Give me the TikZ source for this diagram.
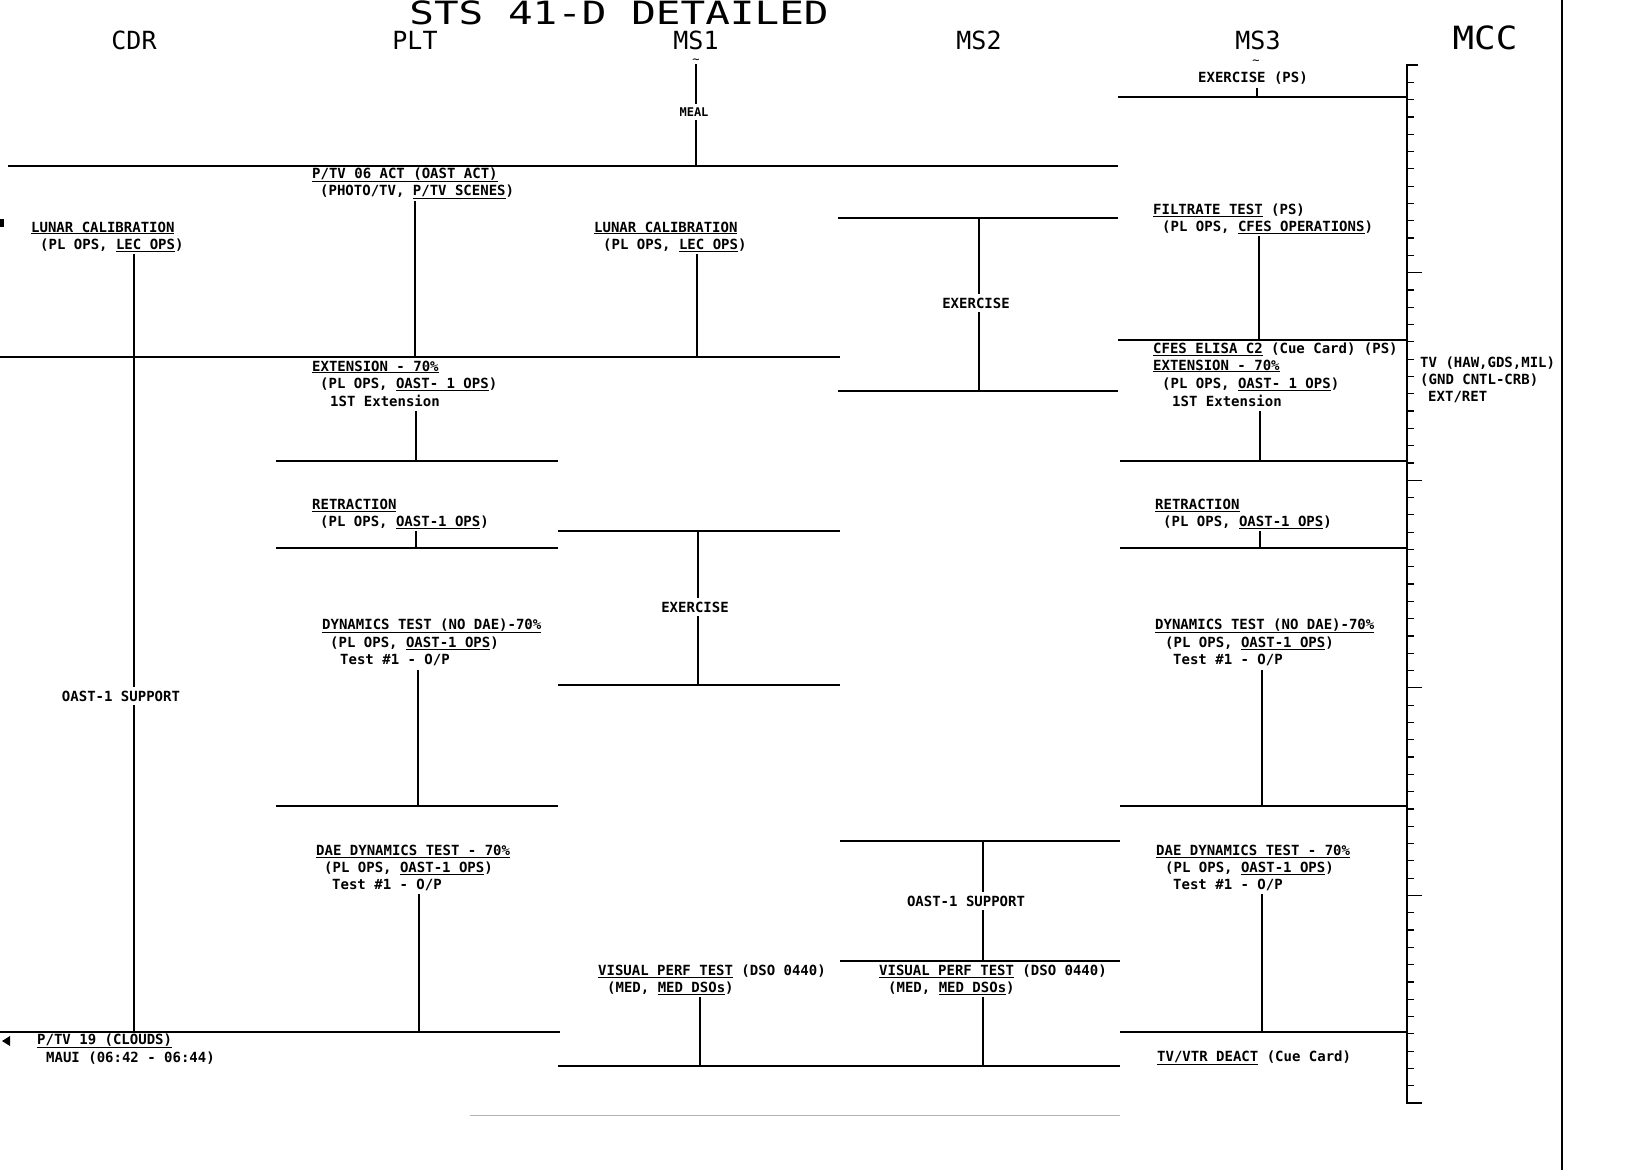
\documentclass[tikz,border=0pt]{standalone}
\usepackage{fontspec}
\newfontfamily\mono{DejaVu Sans Mono}
\newcommand{\uln}[1]{\underline{#1}}
\tikzset{
  lbl/.style={font=\mono\bfseries\fontsize{14}{16}\selectfont, inner sep=0pt, anchor=west},
  clbl/.style={font=\mono\bfseries\fontsize{14}{16}\selectfont, inner sep=0pt, outer ysep=4pt},
  hdr/.style={font=\mono\fontsize{25}{28}\selectfont, inner sep=0pt},
  hl/.style={line width=2pt},
  vl/.style={line width=1.4pt},
  axisline/.style={line width=2pt},
  tickline/.style={line width=1.2pt},
}
\begin{document}
\begin{tikzpicture}[x=1pt,y=-1pt]
\useasboundingbox (0,0) rectangle (1644,1170);
\fill[white] (0,0) rectangle (1644,1170);

% ---------- headers ----------
\node[font=\mono\fontsize{32}{34}\selectfont, inner sep=0pt] (title) at (619,13) {\scalebox{1.28}[1]{STS 41-D DETAILED}};
\node[hdr] (hcdr) at (134,40) {CDR};
\node[hdr] (hplt) at (415,40) {PLT};
\node[hdr] (hms1) at (696,40) {MS1};
\node[hdr] (hms2) at (979,40) {MS2};
\node[hdr] (hms3) at (1258,40) {MS3};
\node[font=\mono\fontsize{32}{34}\selectfont, inner sep=0pt] (hmcc) at (1485,38) {\scalebox{1.12}[1]{MCC}};
\node[inner sep=0pt, font=\mono\fontsize{12}{12}\selectfont] (til1) at (696,61) {\textasciitilde};
\node[inner sep=0pt, font=\mono\fontsize{12}{12}\selectfont] (til3) at (1256,62) {\textasciitilde};

% ---------- coordinates of horizontal lines ----------
\coordinate (h1a) at (1118,97);   \coordinate (h1b) at (1407,97);
\coordinate (h2a) at (8,166);     \coordinate (h2b) at (1118,166);
\coordinate (h3a) at (838,218);   \coordinate (h3b) at (1118,218);
\coordinate (h4a) at (1118,340);  \coordinate (h4b) at (1407,340);
\coordinate (h5a) at (0,357);     \coordinate (h5b) at (840,357);
\coordinate (h6a) at (838,391);   \coordinate (h6b) at (1118,391);
\coordinate (h7a) at (276,461);   \coordinate (h7b) at (558,461);
\coordinate (h8a) at (1120,461);  \coordinate (h8b) at (1407,461);
\coordinate (h9a) at (558,531);   \coordinate (h9b) at (840,531);
\coordinate (h10a) at (276,548);  \coordinate (h10b) at (558,548);
\coordinate (h11a) at (1120,548); \coordinate (h11b) at (1407,548);
\coordinate (h12a) at (558,685);  \coordinate (h12b) at (840,685);
\coordinate (h13a) at (276,806);  \coordinate (h13b) at (558,806);
\coordinate (h14a) at (1120,806); \coordinate (h14b) at (1407,806);
\coordinate (h15a) at (840,841);  \coordinate (h15b) at (1120,841);
\coordinate (h16a) at (840,961);  \coordinate (h16b) at (1120,961);
\coordinate (h17a) at (0,1032);   \coordinate (h17b) at (560,1032);
\coordinate (h18a) at (1120,1032);\coordinate (h18b) at (1407,1032);
\coordinate (h19a) at (558,1066); \coordinate (h19b) at (1120,1066);
\foreach \n in {1,...,19} {\draw[hl] (h\n a) -- (h\n b);}
\draw[gray!60, line width=0.8pt] (470,1115) coordinate (h20a) -- (1120,1115) coordinate (h20b);

% ---------- MS1 meal ----------
\node[clbl, font=\mono\bfseries\fontsize{12}{14}\selectfont] (meal) at (694,112) {MEAL};
\coordinate (m1t) at (696,64);
\draw[vl] (m1t) -- (m1t |- meal.north);
\draw[vl] (meal.south -| m1t) -- (m1t |- h2a);

% ---------- MS3 exercise ----------
\node[lbl] (ex3) at (1198,78) {EXERCISE (PS)};
\draw[vl] (1257,88) coordinate (ex3t) -- (ex3t |- h1a);

% ---------- PLT P/TV 06 ----------
\node[lbl] (ptv1) at (312,175) {\uln{P/TV 06 ACT (OAST ACT)}};
\node[lbl] (ptv2) at (320,192) {(PHOTO/TV, \uln{P/TV SCENES})};
\coordinate (ptvt) at (415,201);
\draw[vl] (ptvt) -- (ptvt |- h5a);

% ---------- CDR lunar calibration ----------
\node[lbl] (lc1) at (31,228) {\uln{LUNAR CALIBRATION}};
\node[lbl] (lc2) at (40,245) {(PL OPS, \uln{LEC OPS})};
\node[clbl] (csup) at (121,696) {OAST-1 SUPPORT};
\coordinate (cdrt) at (134,254);
\draw[vl] (cdrt) -- (cdrt |- csup.north);
\draw[vl] (csup.south -| cdrt) -- (cdrt |- h17a);
\fill (0,219) rectangle (4,227);
\fill (2,1041) -- (10,1036) -- (10,1046) -- cycle;
\node[lbl] (ptv19) at (37,1041) {\uln{P/TV 19 (CLOUDS)}};
\node[lbl] (maui) at (46,1058) {MAUI (06:42 - 06:44)};

% ---------- MS1 lunar calibration ----------
\node[lbl] (mlc1) at (594,228) {\uln{LUNAR CALIBRATION}};
\node[lbl] (mlc2) at (603,245) {(PL OPS, \uln{LEC OPS})};
\coordinate (mlct) at (697,254);
\draw[vl] (mlct) -- (mlct |- h5a);

% ---------- MS2 exercise ----------
\node[clbl] (ex2) at (976,303) {EXERCISE};
\coordinate (ex2x) at (979,218);
\draw[vl] (ex2x) -- (ex2x |- ex2.north);
\draw[vl] (ex2.south -| ex2x) -- (ex2x |- h6a);

% ---------- MS3 filtrate ----------
\node[lbl] (fil1) at (1153,210) {\uln{FILTRATE TEST} (PS)};
\node[lbl] (fil2) at (1162,227) {(PL OPS, \uln{CFES OPERATIONS})};
\coordinate (filt) at (1259,236);
\draw[vl] (filt) -- (filt |- h4a);

% ---------- PLT extension ----------
\node[lbl] (pe1) at (312,367) {\uln{EXTENSION - 70\%}};
\node[lbl] (pe2) at (320,384) {(PL OPS, \uln{OAST-\ 1 OPS})};
\node[lbl] (pe3) at (330,401) {1ST Extension};
\coordinate (pet) at (416,411);
\draw[vl] (pet) -- (pet |- h7a);

% ---------- MS3 CFES / extension ----------
\node[lbl] (ce0) at (1153,349) {\uln{CFES ELISA C2} (Cue Card) (PS)};
\node[lbl] (ce1) at (1153,366) {\uln{EXTENSION - 70\%}};
\node[lbl] (ce2) at (1162,384) {(PL OPS, \uln{OAST-\ 1 OPS})};
\node[lbl] (ce3) at (1172,401) {1ST Extension};
\coordinate (cet) at (1260,411);
\draw[vl] (cet) -- (cet |- h8a);

% ---------- MCC notes ----------
\node[lbl] (mcc1) at (1420,363) {TV (HAW,GDS,MIL)};
\node[lbl] (mcc2) at (1420,380) {(GND CNTL-CRB)};
\node[lbl] (mcc3) at (1428,397) {EXT/RET};

% ---------- retraction ----------
\node[lbl] (pr1) at (312,505) {\uln{RETRACTION}};
\node[lbl] (pr2) at (320,522) {(PL OPS, \uln{OAST-1 OPS})};
\coordinate (prt) at (416,531);
\draw[vl] (prt) -- (prt |- h10a);
\node[lbl] (mr1) at (1155,505) {\uln{RETRACTION}};
\node[lbl] (mr2) at (1163,522) {(PL OPS, \uln{OAST-1 OPS})};
\coordinate (mrt) at (1260,531);
\draw[vl] (mrt) -- (mrt |- h11a);

% ---------- MS1 exercise ----------
\node[clbl] (ex1) at (695,607) {EXERCISE};
\coordinate (ex1x) at (698,531);
\draw[vl] (ex1x) -- (ex1x |- ex1.north);
\draw[vl] (ex1.south -| ex1x) -- (ex1x |- h12a);

% ---------- dynamics test ----------
\node[lbl] (pd1) at (322,626) {\uln{DYNAMICS TEST (NO DAE)-70\%}};
\node[lbl] (pd2) at (330,643) {(PL OPS, \uln{OAST-1 OPS})};
\node[lbl] (pd3) at (340,660) {Test \#1 - O/P};
\coordinate (pdt) at (418,670);
\draw[vl] (pdt) -- (pdt |- h13a);
\node[lbl] (md1) at (1155,626) {\uln{DYNAMICS TEST (NO DAE)-70\%}};
\node[lbl] (md2) at (1165,643) {(PL OPS, \uln{OAST-1 OPS})};
\node[lbl] (md3) at (1173,660) {Test \#1 - O/P};
\coordinate (mdt) at (1262,670);
\draw[vl] (mdt) -- (mdt |- h14a);

% ---------- DAE dynamics test ----------
\node[lbl] (pa1) at (316,851) {\uln{DAE DYNAMICS TEST - 70\%}};
\node[lbl] (pa2) at (324,868) {(PL OPS, \uln{OAST-1 OPS})};
\node[lbl] (pa3) at (332,885) {Test \#1 - O/P};
\coordinate (pat) at (419,894);
\draw[vl] (pat) -- (pat |- h17a);
\node[lbl] (ma1) at (1156,851) {\uln{DAE DYNAMICS TEST - 70\%}};
\node[lbl] (ma2) at (1165,868) {(PL OPS, \uln{OAST-1 OPS})};
\node[lbl] (ma3) at (1173,885) {Test \#1 - O/P};
\coordinate (mat) at (1262,894);
\draw[vl] (mat) -- (mat |- h18a);

% ---------- MS2 OAST-1 support ----------
\node[clbl] (sup2) at (966,901) {OAST-1 SUPPORT};
\coordinate (sup2x) at (983,841);
\draw[vl] (sup2x) -- (sup2x |- sup2.north);
\draw[vl] (sup2.south -| sup2x) -- (sup2x |- h16a);

% ---------- visual perf test ----------
\node[lbl] (v1a) at (598,971) {\uln{VISUAL PERF TEST} (DSO 0440)};
\node[lbl] (v1b) at (607,988) {(MED, \uln{MED DSOs})};
\coordinate (v1t) at (700,997);
\draw[vl] (v1t) -- (v1t |- h19a);
\node[lbl] (v2a) at (879,971) {\uln{VISUAL PERF TEST} (DSO 0440)};
\node[lbl] (v2b) at (888,988) {(MED, \uln{MED DSOs})};
\coordinate (v2t) at (983,997);
\draw[vl] (v2t) -- (v2t |- h19a);

% ---------- TV/VTR deact ----------
\node[lbl] (tvd) at (1157,1058) {\uln{TV/VTR DEACT} (Cue Card)};

% ---------- MCC time axis ----------
\coordinate (axt) at (1407,65);
\coordinate (axb) at (1407,1103);
\draw[axisline] (1418,65) -- (axt) -- (axb) -- (1422,1103);
\foreach \i in {1,...,59} {
  \pgfmathsetmacro{\len}{mod(\i,12)==0 ? 15 : 7}
  \draw[tickline] (1407,{65+\i*17.3}) -- ++(\len,0);
}

% ---------- right border ----------
\draw[line width=1.5pt] (1562,0) coordinate (rb1) -- (1562,1170) coordinate (rb2);
\end{tikzpicture}
\end{document}
